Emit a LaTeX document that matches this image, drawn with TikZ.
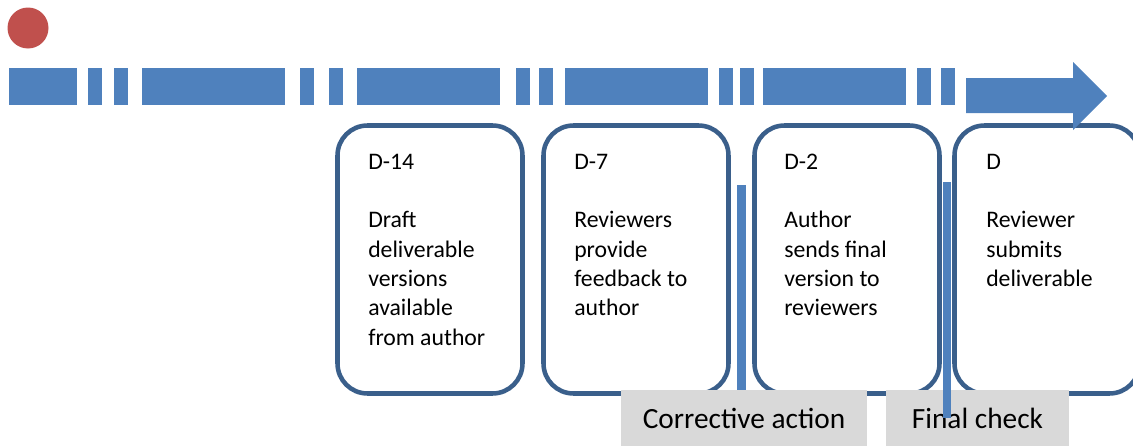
\documentclass[tikz,border=0pt]{standalone}
\usepackage{fontspec}
\setmainfont{Carlito}
\definecolor{barblue}{HTML}{4F81BD}
\definecolor{edgeblue}{HTML}{3A5F8B}
\definecolor{dotred}{HTML}{C0504D}
\definecolor{panelgrey}{HTML}{D9D9D9}
\tikzset{
  stagebox/.style={draw=edgeblue, line width=3.4pt, fill=white, rounded corners=22.5pt,
    minimum width=138.75pt, minimum height=201pt, inner sep=0pt, outer sep=0pt, anchor=north west},
  boxtext/.style={inner sep=0pt, anchor=base west, font=\fontsize{17.8pt}{22pt}\selectfont, text=black},
  greypanel/.style={fill=panelgrey, inner xsep=0pt, inner ysep=0pt, anchor=base,
    text height=28.5pt, text depth=24pt, font=\fontsize{22pt}{26pt}\selectfont, text=black},
  barpiece/.style={fill=barblue},
}
\begin{document}
\begin{tikzpicture}[x=0.75pt,y=-0.75pt]
\useasboundingbox (0,0) rectangle (1133,446);
\clip (0,0) rectangle (1133,446);
% timeline dashes
\foreach \a/\b in {9/77,88/102,114/128,142/285,300/314,329/343,357/500,516/530,539/553,565/708,719/733,740/754,763/906,917/931,941/955}
  \fill[barpiece] (\a,68) rectangle (\b,105);
% start dot
\node[circle, fill=dotred, minimum size=30.75pt, inner sep=0pt] (start) at (28,28) {};
% stage boxes
\node[stagebox] (b1) at (337.5,125.5) {};
\node[stagebox] (b2) at (543.5,125.5) {};
\node[stagebox] (b3) at (754.5,125.5) {};
\node[stagebox] (b4) at (954.5,125.5) {};
% arrow head of timeline
\fill[barpiece] (966,78) -- (1073,78) -- (1073,62) -- (1107,96) -- (1073,130) -- (1073,113) -- (966,113) -- cycle;
% box texts
\node[boxtext] (t1) at (368,169) {\parbox[t]{150pt}{D-14\\[22pt]Draft\\deliverable\\versions\\available\\from author}};
\node[boxtext] (t2) at (574,169) {\parbox[t]{150pt}{D-7\\[22pt]Reviewers\\provide\\feedback to\\author}};
\node[boxtext] (t3) at (784,169) {\parbox[t]{150pt}{D-2\\[22pt]Author\\sends final\\version to\\reviewers}};
\node[boxtext] (t4) at (986,169) {\parbox[t]{150pt}{D\\[22pt]Reviewer\\submits\\deliverable}};
% corrective marker
\fill[barpiece] (737,185) rectangle (746,392);
% grey panels
\node[greypanel, minimum width=184.5pt] (g1) at (744,428) {Corrective action};
\node[greypanel, minimum width=137.25pt] (g2) at (977.5,428) {Final check};
% final check marker
\fill[barpiece] (943,182) rectangle (951,418);
\end{tikzpicture}
\end{document}
